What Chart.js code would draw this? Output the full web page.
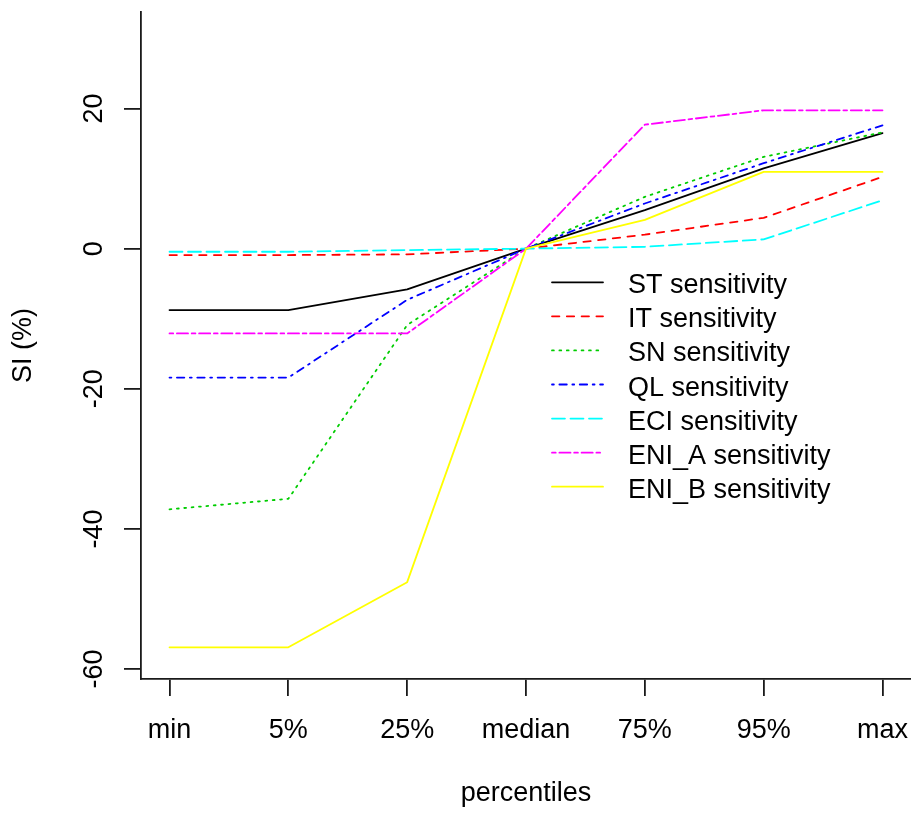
<!DOCTYPE html>
<html>
<head>
<meta charset="utf-8">
<script src="https://cdn.jsdelivr.net/npm/chart.js@4.4.1/dist/chart.umd.min.js"></script>
<style>
  html, body { margin: 0; padding: 0; background: #ffffff; }
  #wrap { width: 911px; height: 815px; }
</style>
</head>
<body>
<div id="wrap"><canvas id="c" width="911" height="815"></canvas></div>
<script>
// ---- data ----
const categories = ["min", "5%", "25%", "median", "75%", "95%", "max"];
const yTicks = [-60, -40, -20, 0, 20];
const seriesNames = ["ST sensitivity", "IT sensitivity", "SN sensitivity", "QL sensitivity",
                     "ECI sensitivity", "ENI_A sensitivity", "ENI_B sensitivity"];
const stValues   = [-8.76, -8.76, -5.8, 0, 5.5, 11.45, 16.5];
const itValues   = [-0.91, -0.91, -0.81, 0, 2.0, 4.4, 10.25];
const snValues   = [-37.2, -35.7, -10.9, 0, 7.4, 13.1, 16.6];
const qlValues   = [-18.4, -18.4, -7.3, 0, 6.45, 12.2, 17.6];
const eciValues  = [-0.44, -0.44, -0.2, 0, 0.27, 1.33, 6.9];
const eniAValues = [-12.1, -12.1, -12.1, 0, 17.7, 19.75, 19.75];
const eniBValues = [-56.9, -56.9, -47.6, 0, 4.1, 10.95, 10.95];

const allValues = [stValues, itValues, snValues, qlValues, eciValues, eniAValues, eniBValues];
const colors = ["#000000", "#FF0000", "#00CD00", "#0000FF", "#00FFFF", "#FF00FF", "#FFFF00"];
const k = 1.85;
const dashes = [[], [4*k, 4*k], [1*k, 3*k], [1*k, 3*k, 4*k, 3*k], [7*k, 3*k], [2*k, 2*k, 6*k, 2*k], []];
const LW = 1.8;

const FONT = '"Liberation Sans", Arial, sans-serif';
const FS = 27;
const AXIS_COLOR = '#1a1a1a';

const datasets = allValues.map((vals, i) => ({
  label: seriesNames[i],
  data: vals.map((v, j) => ({ x: j, y: v })),
  borderColor: colors[i],
  backgroundColor: colors[i],
  borderWidth: LW,
  borderDash: dashes[i],
  borderCapStyle: 'round',
  borderJoinStyle: 'round',
  pointRadius: 0,
  tension: 0,
  fill: false,
  order: allValues.length - i
}));

function zeroPad(s) {
  s.paddingTop = 0; s.paddingBottom = 0; s.paddingLeft = 0; s.paddingRight = 0;
}

const overlayPlugin = {
  id: 'overlay',
  afterDraw(chart) {
    const ctx = chart.ctx;
    const ys = chart.scales.y;
    ctx.save();
    ctx.fillStyle = '#000';
    ctx.font = FS + 'px ' + FONT;
    // rotated y tick labels (R style)
    yTicks.forEach(v => {
      const py = ys.getPixelForValue(v);
      ctx.save();
      ctx.translate(101.5, py);
      ctx.rotate(-Math.PI / 2);
      ctx.textAlign = 'center';
      ctx.textBaseline = 'alphabetic';
      ctx.fillText(String(v), 0, 0);
      ctx.restore();
    });
    // legend (no box)
    const x0 = 552, x1 = 603, tx = 628, top = 282.3, step = 34.07;
    chart.data.datasets.forEach((ds, i) => {
      const ry = top + i * step;
      ctx.save();
      ctx.strokeStyle = ds.borderColor;
      ctx.lineWidth = ds.borderWidth;
      ctx.lineCap = 'round';
      ctx.setLineDash(ds.borderDash);
      ctx.beginPath();
      ctx.moveTo(x0, ry);
      ctx.lineTo(x1, ry);
      ctx.stroke();
      ctx.restore();
      ctx.textAlign = 'left';
      ctx.textBaseline = 'alphabetic';
      ctx.fillText(ds.label, tx, ry + 11);
    });
    ctx.restore();
  }
};

new Chart(document.getElementById('c'), {
  type: 'line',
  data: { datasets },
  options: {
    responsive: false,
    animation: false,
    devicePixelRatio: 1,
    layout: { padding: { top: 12, right: 0, left: 0, bottom: 0 } },
    plugins: { legend: { display: false }, tooltip: { enabled: false } },
    scales: {
      x: {
        type: 'linear',
        min: -0.24,
        max: 6.24,
        afterBuildTicks: (s) => { s.ticks = categories.map((c, i) => ({ value: i })); },
        afterFit: (s) => { s.height = 136; zeroPad(s); },
        ticks: {
          autoSkip: false, maxRotation: 0, minRotation: 0,
          padding: 18,
          color: '#000',
          font: { family: FONT, size: FS },
          callback: (v) => categories[v]
        },
        grid: { display: true, drawOnChartArea: false, drawTicks: true, tickLength: 17,
                color: AXIS_COLOR, lineWidth: 1.8 },
        border: { display: true, color: AXIS_COLOR, width: 1.8 },
        title: { display: true, text: 'percentiles', color: '#000',
                 font: { family: FONT, size: FS }, padding: { top: 0, bottom: 5.2 } }
      },
      y: {
        type: 'linear',
        min: -61.42,
        max: 33.78,
        afterBuildTicks: (s) => { s.ticks = yTicks.map(v => ({ value: v })); },
        afterFit: (s) => { s.width = 141; zeroPad(s); },
        ticks: { color: 'rgba(0,0,0,0)', font: { family: FONT, size: FS } },
        grid: { display: true, drawOnChartArea: false, drawTicks: true, tickLength: 17,
                color: AXIS_COLOR, lineWidth: 1.8 },
        border: { display: true, color: AXIS_COLOR, width: 1.8 },
        title: { display: true, text: 'SI (%)', color: '#000',
                 font: { family: FONT, size: FS }, padding: { top: 7.4, bottom: 0 } }
      }
    }
  },
  plugins: [overlayPlugin]
});
</script>
</body>
</html>
